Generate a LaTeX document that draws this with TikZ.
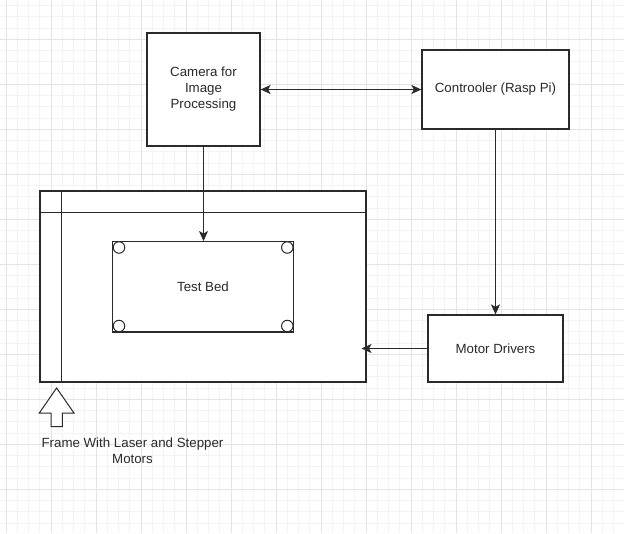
\documentclass[tikz,border=0pt]{standalone}
\usepackage{fontspec}
\setmainfont{Liberation Sans}
\usetikzlibrary{arrows.meta}
\definecolor{gridmajor}{HTML}{E4E4E4}
\definecolor{gridminor}{HTML}{F4F4F4}
\definecolor{ink}{HTML}{2A2A2A}
\tikzset{
  box/.style={draw=ink, line width=1.2pt, fill=white, rectangle, inner sep=2pt, align=center, text=ink, font=\fontsize{13.3}{16}\selectfont},
  conn/.style={draw=ink, line width=1.2pt, -{Stealth[length=10pt,width=9pt,inset=2.5pt]}},
  biconn/.style={draw=ink, line width=1.2pt, {Stealth[length=10pt,width=9pt,inset=2.5pt]}-{Stealth[length=10pt,width=9pt,inset=2.5pt]}},
  corner/.style={draw=ink, line width=1pt, fill=white, circle, minimum size=11.5pt, inner sep=0pt},
  lbl/.style={align=center, text=ink, font=\fontsize{13.3}{15.5}\selectfont, inner sep=0pt},
}
\begin{document}
\begin{tikzpicture}[x=1pt,y=-1pt]
\useasboundingbox (0,0) rectangle (624,533);
\fill[white] (0,0) rectangle (624,533);
% grid
\foreach \i in {0,...,55} {
  \pgfmathsetmacro\gx{6+11.25*\i}
  \draw[gridminor, line width=0.7pt] (\gx,0) -- (\gx,533);
}
\foreach \i in {0,...,48} {
  \pgfmathsetmacro\gy{-5.7+11.25*\i}
  \draw[gridminor, line width=0.7pt] (0,\gy) -- (624,\gy);
}
\foreach \i in {0,...,13} {
  \pgfmathsetmacro\gx{6+45*\i}
  \draw[gridmajor, line width=0.8pt] (\gx,0) -- (\gx,533);
}
\foreach \i in {1,...,12} {
  \pgfmathsetmacro\gy{-5.7+45*\i}
  \draw[gridmajor, line width=0.8pt] (0,\gy) -- (624,\gy);
}

% nodes
\node[box, minimum width=113pt, minimum height=113pt] (cam) at (203.5,89.5) {Camera for\\Image\\Processing};
\node[box, minimum width=147pt, minimum height=79pt] (ctrl) at (495.5,89.5) {Controoler (Rasp Pi)};
\node[box, minimum width=135pt, minimum height=67pt] (drv) at (495.5,348.5) {Motor Drivers};
\node[box, minimum width=326pt, minimum height=191pt] (frame) at (203,286.5) {};
\draw[draw=ink, line width=1.2pt] ([xshift=22pt]frame.north west) -- ([xshift=22pt]frame.south west);
\draw[draw=ink, line width=1.2pt] ([yshift=-22pt]frame.north west) -- ([yshift=-22pt]frame.north east);
\node[box, minimum width=180.6pt, minimum height=90.3pt] (bed) at (203,286.8) {Test Bed};
\node[corner] (c1) at (119,247.5) {};
\node[corner] (c2) at (287.3,247.5) {};
\node[corner] (c3) at (119,326) {};
\node[corner] (c4) at (287.3,326) {};

% block arrow
\draw[draw=ink, line width=1pt, fill=white] (56.6,388) -- (74,413) -- (62.3,413) -- (62.3,426.7) -- (51,426.7) -- (51,413) -- (39.3,413) -- cycle;
\node[lbl] (flabel) at (132.5,450.5) {Frame With Laser and Stepper\\Motors};

% connectors
\draw[biconn] (cam.east) -- (ctrl.west);
\draw[conn] (cam.south) -- (cam.south |- bed.north);
\draw[conn] (ctrl.south) -- (drv.north);
\coordinate (fin) at (361.5,348.5);
\draw[conn] (drv.west) -- (fin);
\end{tikzpicture}
\end{document}
